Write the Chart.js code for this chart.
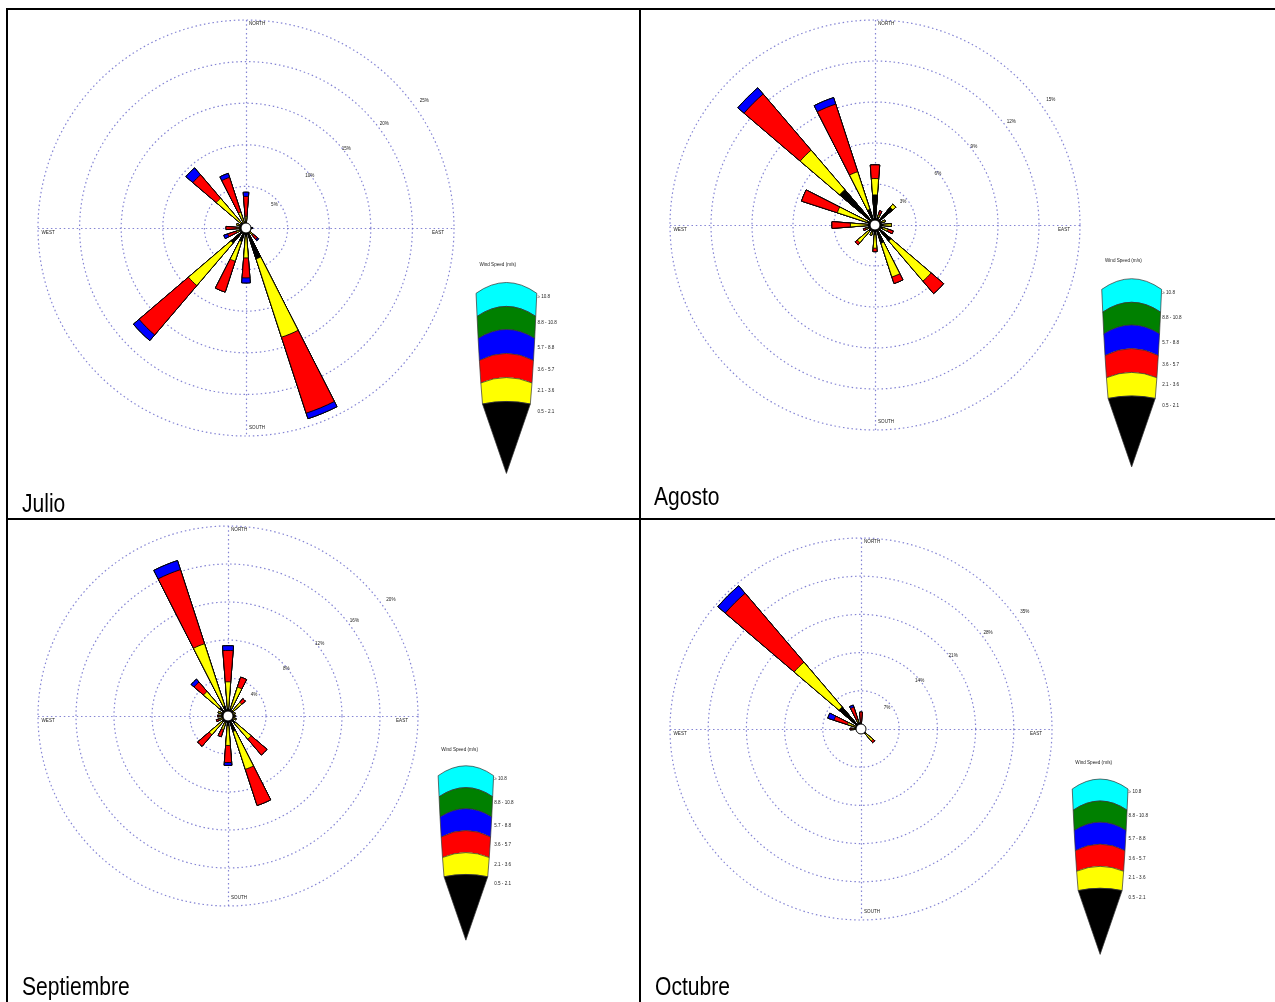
<!DOCTYPE html>
<html>
<head>
<meta charset="utf-8">
<script src="https://cdn.jsdelivr.net/npm/chart.js@4"></script>
<style>
  html, body { margin: 0; padding: 0; background: #fff; }
  #sheet { position: relative; width: 1275px; height: 1002px; overflow: hidden; background: #fff; }
  .rule { position: absolute; background: #000; }
  .cell { position: absolute; }
  .cell canvas { position: absolute; left: 0; top: 0; }
  .caption {
    position: absolute;
    font-family: 'Liberation Sans', Arial, sans-serif;
    font-size: 26px; line-height: 26px; color: #000; white-space: nowrap;
    transform: scaleX(0.81); transform-origin: 0 0;
  }
</style>
</head>
<body>
<div id="sheet">
  <div class="rule" style="left:6px;top:8px;width:1269px;height:2px"></div>
  <div class="rule" style="left:6px;top:8px;width:2px;height:994px"></div>
  <div class="rule" style="left:639px;top:8px;width:2px;height:994px"></div>
  <div class="rule" style="left:6px;top:518px;width:1269px;height:2px"></div>
</div>
<script>
// Sixteen compass sectors, clockwise from north
const directions = ['N','NNE','NE','ENE','E','ESE','SE','SSE','S','SSW','SW','WSW','W','WNW','NW','NNW'];
const speedClasses = ['0.5 - 2.1', '2.1 - 3.6', '3.6 - 5.7', '5.7 - 8.8', '8.8 - 10.8', '\u2265 10.8'];
const classColors = ['#000000', '#ffff00', '#ff0000', '#0000ff', '#008000', '#00ffff'];
const monthNames = ['Julio', 'Agosto', 'Septiembre', 'Octubre'];

// Frequency (%) of each speed class (rows) per direction (columns)
const julioFreq = [
  [0.6, 0.3, 0.3, 0.3, 0.3, 0.3, 0.5, 3.9, 1.0, 1.7, 2.4, 0.8, 0.6, 0.8, 0.8, 0.5],
  [0.8, 0.2, 0.1, 0.1, 0.2, 0.2, 0.6, 9.9, 2.6, 2.5, 6.7, 0.4, 0.5, 0.4, 3.9, 1.5],
  [2.4, 0.0, 0.0, 0.0, 0.1, 0.1, 0.7, 9.6, 2.4, 3.9, 7.8, 1.1, 1.3, 0.0, 3.7, 4.4],
  [0.5, 0.0, 0.0, 0.0, 0.2, 0.0, 0.2, 0.7, 0.6, 0.0, 0.9, 0.5, 0.0, 0.0, 1.1, 0.5],
  [0, 0, 0, 0, 0, 0, 0, 0, 0, 0, 0, 0, 0, 0, 0, 0],
  [0, 0, 0, 0, 0, 0, 0, 0, 0, 0, 0, 0, 0, 0, 0, 0]
];
const agostoFreq = [
  [2.2, 0.6, 1.7, 0.5, 0.6, 0.6, 1.55, 1.4, 0.7, 0.5, 0.6, 0.5, 0.5, 0.6, 3.4, 1.2],
  [1.2, 0.2, 0.3, 0.3, 0.6, 0.4, 3.85, 2.6, 1.0, 0.3, 1.1, 0.2, 1.3, 2.3, 3.8, 2.9],
  [1.0, 0.3, 0.0, 0.0, 0.0, 0.4, 1.2, 0.5, 0.25, 0.0, 0.2, 0.2, 1.35, 2.75, 5.4, 5.2],
  [0, 0, 0, 0, 0, 0, 0, 0, 0, 0, 0, 0, 0, 0, 0.6, 0.5],
  [0, 0, 0, 0, 0, 0, 0, 0, 0, 0, 0, 0, 0, 0, 0, 0],
  [0, 0, 0, 0, 0, 0, 0, 0, 0, 0, 0, 0, 0, 0, 0, 0]
];
const septiembreFreq = [
  [0.8, 0.8, 0.7, 0.5, 0.5, 0.5, 1.0, 1.7, 1.0, 0.7, 0.8, 0.6, 0.6, 0.7, 1.2, 1.1],
  [2.8, 2.4, 1.2, 0.3, 0.3, 0.4, 2.2, 4.2, 2.1, 0.8, 1.8, 0.4, 0.3, 0.4, 2.2, 6.9],
  [3.3, 1.1, 0.5, 0.0, 0.0, 0.0, 2.2, 4.0, 1.8, 0.8, 1.6, 0.3, 0.2, 0.0, 1.3, 8.2],
  [0.5, 0, 0, 0, 0, 0, 0, 0, 0.3, 0, 0, 0, 0, 0, 0.4, 1.0],
  [0, 0, 0, 0, 0, 0, 0, 0, 0, 0, 0, 0, 0, 0, 0, 0],
  [0, 0, 0, 0, 0, 0, 0, 0, 0, 0, 0, 0, 0, 0, 0, 0]
];
const octubreFreq = [
  [0.6, 0.5, 0.4, 0.4, 0.4, 0.4, 1.1, 0.5, 0.5, 0.4, 0.4, 0.4, 0.8, 1.0, 5.3, 1.2],
  [0.3, 0.2, 0.0, 0.0, 0.1, 0.0, 1.8, 0.1, 0.2, 0.0, 0.0, 0.0, 0.7, 1.6, 10.8, 0.6],
  [2.2, 0.0, 0.0, 0.0, 0.0, 0.0, 0.4, 0.0, 0.0, 0.0, 0.0, 0.0, 0.5, 2.6, 16.6, 2.4],
  [0, 0, 0, 0, 0, 0, 0, 0, 0, 0, 0, 0, 0, 1.2, 1.8, 0.4],
  [0, 0, 0, 0, 0, 0, 0, 0, 0, 0, 0, 0, 0, 0, 0, 0],
  [0, 0, 0, 0, 0, 0, 0, 0, 0, 0, 0, 0, 0, 0, 0, 0]
];
// Ring spacing (%) of each rose; five rings per rose
const ringSteps = [5, 3, 4, 7];
const ringCount = 5;

const monthFreqs = [julioFreq, agostoFreq, septiembreFreq, octubreFreq];

// Cell geometry on the sheet and the padding that places the rose inside it
const cells = [
  { left: 8,   top: 10,  width: 631, height: 508, pad: { left: 30, top: 10, right: 185, bottom: 82 }, caption: { left: 22,  top: 490 } },
  { left: 641, top: 10,  width: 634, height: 508, pad: { left: 29, top: 10, right: 195, bottom: 88 }, caption: { left: 654, top: 483 } },
  { left: 8,   top: 520, width: 631, height: 482, pad: { left: 30, top: 6,  right: 221, bottom: 96 }, caption: { left: 22,  top: 973 } },
  { left: 641, top: 520, width: 634, height: 482, pad: { left: 29, top: 18, right: 223, bottom: 82 }, caption: { left: 655, top: 973 } }
];

const PETAL = 9;            // petal width in degrees
const GAP = 22.5 - PETAL;   // empty wedge between petals
const RING_COLOR = 'rgba(110,110,205,0.85)';
const RING_DASH = [1.5, 2.8];
const TINY_FONT = '4.6px "Liberation Sans", Arial, sans-serif';

// Draws compass cross, ring labels, calm circle and the speed legend fan
const roseDecor = {
  id: 'roseDecor',
  beforeDatasetsDraw(chart) {
    const s = chart.scales.r, ctx = chart.ctx;
    const cx = s.xCenter, cy = s.yCenter;
    const R = s.getDistanceFromCenterForValue(s.max);
    ctx.save();
    ctx.strokeStyle = RING_COLOR;
    ctx.lineWidth = 1.2;
    ctx.setLineDash(RING_DASH);
    ctx.beginPath();
    ctx.moveTo(cx - R, cy + 0.5); ctx.lineTo(cx + R, cy + 0.5);
    ctx.moveTo(cx + 0.5, cy - R); ctx.lineTo(cx + 0.5, cy + R);
    ctx.stroke();
    ctx.setLineDash([]);

    ctx.fillStyle = '#222';
    ctx.font = TINY_FONT;
    ctx.textBaseline = 'middle';
    ctx.textAlign = 'center';
    s.ticks.forEach(t => {
      if (t.value <= 0) return;
      const r = s.getDistanceFromCenterForValue(t.value);
      const d = 1.094 * r - 0.041 * R;
      const a = (40 - 4.5 * Math.pow(r / R, 2)) * Math.PI / 180;
      ctx.fillText(t.value + '%', cx + d * Math.cos(a), cy - d * Math.sin(a));
    });
    ctx.textAlign = 'left';
    ctx.fillText('NORTH', cx + 3, cy - R + 4);
    ctx.fillText('SOUTH', cx + 3, cy + R - 8.5);
    ctx.fillText('WEST', cx - R + 3.5, cy + 5);
    ctx.textAlign = 'right';
    ctx.fillText('EAST', cx + R - 10, cy + 5);
    ctx.restore();
  },
  afterDatasetsDraw(chart) {
    const s = chart.scales.r, ctx = chart.ctx;
    const cx = s.xCenter, cy = s.yCenter;
    const R = s.getDistanceFromCenterForValue(s.max);
    ctx.save();
    // calm circle
    ctx.beginPath();
    ctx.arc(cx, cy, 5, 0, Math.PI * 2);
    ctx.fillStyle = '#fff';
    ctx.fill();
    ctx.lineWidth = 1;
    ctx.strokeStyle = '#000';
    ctx.stroke();

    // legend fan, bands listed from the top (fastest class) down
    const lx = cx + 1.252 * R;
    const apexY = cy + 1.18 * R;
    const tops = [0.262, 0.377, 0.488, 0.603, 0.719, 0.834].map(v => cy + v * R);
    const halfW = [0.146, 0.141, 0.136, 0.130, 0.123, 0.115].map(v => v * R);
    const sag = [0.052, 0.048, 0.043, 0.034, 0.026, 0.012].map(v => v * R);
    const labelY = [0.329, 0.454, 0.575, 0.680, 0.781, 0.882].map(v => cy + v * R);
    const n = speedClasses.length;
    ctx.lineWidth = 0.7;
    ctx.strokeStyle = '#333';
    for (let b = 0; b < n; b++) {
      const cls = n - 1 - b;
      const yT = tops[b], hw = halfW[b], sg = sag[b];
      ctx.beginPath();
      ctx.moveTo(lx - hw, yT + sg);
      ctx.quadraticCurveTo(lx, yT - sg, lx + hw, yT + sg);
      if (b < n - 1) {
        const yN = tops[b + 1], hwN = halfW[b + 1], sgN = sag[b + 1];
        ctx.lineTo(lx + hwN, yN + sgN);
        ctx.quadraticCurveTo(lx, yN - sgN, lx - hwN, yN + sgN);
      } else {
        ctx.lineTo(lx, apexY);
      }
      ctx.closePath();
      ctx.fillStyle = classColors[cls];
      ctx.fill();
      ctx.stroke();
    }
    ctx.fillStyle = '#222';
    ctx.font = TINY_FONT;
    ctx.textBaseline = 'middle';
    ctx.textAlign = 'left';
    ctx.fillText('Wind Speed (m/s)', lx - 0.13 * R, cy + 0.175 * R);
    for (let b = 0; b < n; b++) {
      ctx.fillText(speedClasses[n - 1 - b], lx + 0.149 * R, labelY[b]);
    }
    ctx.restore();
  }
};

// Interleave petals with empty gap sectors
const sectorLabels = [];
directions.forEach(d => { sectorLabels.push(d); sectorLabels.push(''); });

function buildDatasets(freq) {
  let running = new Array(directions.length).fill(0);
  return freq.map((row, k) => {
    running = running.map((v, i) => v + row[i]);
    const data = [];
    running.forEach(v => { data.push(+v.toFixed(3)); data.push(0); });
    return {
      label: speedClasses[k],
      data,
      backgroundColor: classColors[k],
      borderColor: '#000',
      borderWidth: 0.9,
      angle: ctx => (ctx.dataIndex % 2 === 0 ? PETAL : GAP)
    };
  });
}

const sheet = document.getElementById('sheet');
monthNames.forEach((name, m) => {
  const cell = cells[m];
  const wrap = document.createElement('div');
  wrap.className = 'cell';
  Object.assign(wrap.style, { left: cell.left + 'px', top: cell.top + 'px', width: cell.width + 'px', height: cell.height + 'px' });
  const canvas = document.createElement('canvas');
  canvas.width = cell.width;
  canvas.height = cell.height;
  wrap.appendChild(canvas);
  sheet.appendChild(wrap);

  const cap = document.createElement('div');
  cap.className = 'caption';
  cap.style.left = cell.caption.left + 'px';
  cap.style.top = cell.caption.top + 'px';
  cap.textContent = name;
  sheet.appendChild(cap);

  const step = ringSteps[m];
  new Chart(canvas, {
    type: 'polarArea',
    data: { labels: sectorLabels, datasets: buildDatasets(monthFreqs[m]) },
    options: {
      responsive: false,
      animation: false,
      layout: { padding: cell.pad },
      plugins: { legend: { display: false }, tooltip: { enabled: false } },
      scales: {
        r: {
          min: 0,
          max: step * ringCount,
          startAngle: -PETAL / 2,
          ticks: { display: false, stepSize: step },
          grid: { circular: true, color: RING_COLOR, lineWidth: 1.2 },
          border: { dash: RING_DASH },
          angleLines: { display: false },
          pointLabels: { display: false }
        }
      }
    },
    plugins: [roseDecor]
  });
});
</script>
</body>
</html>
